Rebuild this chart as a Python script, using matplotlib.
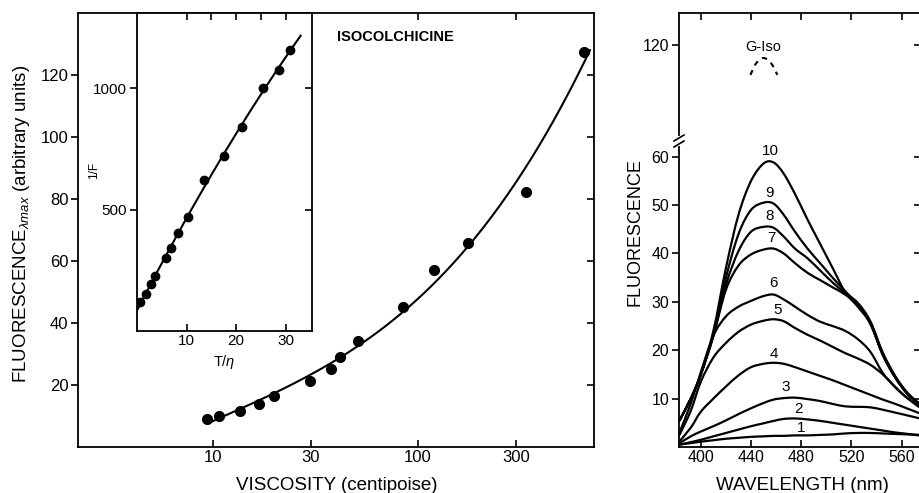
import numpy as np
import matplotlib
matplotlib.use("Agg")
import matplotlib.pyplot as plt
from matplotlib.path import Path
from matplotlib.patches import PathPatch

plt.rcParams['font.family'] = ['Liberation Sans', 'DejaVu Sans']
plt.rcParams['mathtext.fontset'] = 'custom'
plt.rcParams['mathtext.rm'] = 'Liberation Sans'
plt.rcParams['mathtext.it'] = 'Liberation Sans:italic'

# ---- left panel: Fmax vs viscosity ----
visc = [9.35, 10.7, 13.5, 16.8, 19.9, 29.7, 37.7, 41.7, 50.8, 84, 119, 176, 336, 646]
fmax = [9.0, 10.0, 11.7, 13.8, 16.5, 21.3, 25.2, 29.1, 34.3, 45.3, 57.1, 65.7, 82.2, 127.5]
visc_ticks = [10, 30, 100, 300]
fmax_ticks = [20, 40, 60, 80, 100, 120]

# inset: 1/F vs T/eta
t_eta = [0.6, 1.8, 2.8, 3.7, 5.9, 6.8, 8.2, 10.2, 13.6, 17.6, 21.2, 25.5, 28.7, 30.8]
inv_f = [119, 152, 193, 228, 299, 343, 403, 470, 623, 723, 843, 1000, 1078, 1160]

# ---- right panel: emission spectra ----
wl = [383, 392, 400, 410, 420, 430, 440, 450, 458, 466, 475, 485, 495, 505, 515, 525, 535, 545, 555, 565, 576]
spectra = {
    1: [0.5, 0.8, 1.1, 1.4, 1.7, 1.9, 2.1, 2.2, 2.3, 2.3, 2.4, 2.4, 2.5, 2.6, 2.8, 2.9, 2.9, 2.8, 2.7, 2.6, 2.5],
    2: [0.5, 1.0, 1.5, 2.2, 2.9, 3.6, 4.3, 4.9, 5.4, 5.8, 5.9, 5.7, 5.4, 5.0, 4.6, 4.2, 3.8, 3.4, 3.0, 2.7, 2.3],
    3: [0.8, 2.2, 3.2, 4.3, 5.5, 6.8, 8.0, 9.1, 9.8, 10.1, 10.2, 9.9, 9.5, 8.9, 8.4, 8.3, 8.2, 7.7, 7.1, 6.5, 5.8],
    4: [1.2, 4.0, 7.3, 10.0, 12.5, 14.8, 16.5, 17.2, 17.4, 17.2, 16.5, 15.6, 14.7, 13.8, 12.8, 11.8, 10.8, 9.8, 8.9, 7.9, 6.8],
    5: [2.5, 7.5, 13.5, 18.5, 21.5, 23.8, 25.3, 26.1, 26.4, 26.0, 24.6, 23.2, 22.0, 20.7, 19.4, 18.3, 17.0, 15.0, 12.4, 10.0, 7.9],
    6: [3.0, 9.0, 15.5, 23.0, 27.0, 29.0, 30.2, 31.2, 31.5, 30.5, 29.0, 27.3, 25.9, 25.0, 24.0, 22.3, 19.7, 15.3, 12.3, 10.0, 8.0],
    7: [5.5, 10.0, 15.0, 23.0, 32.5, 37.5, 39.8, 40.8, 41.0, 40.0, 38.0, 36.0, 34.5, 33.0, 31.5, 29.3, 25.5, 19.0, 14.3, 10.9, 8.4],
    8: [5.5, 10.0, 15.0, 23.0, 33.5, 40.5, 44.5, 45.5, 45.3, 43.5, 41.0, 39.0, 36.5, 34.0, 31.8, 29.8, 26.0, 19.5, 14.6, 11.1, 8.6],
    9: [5.5, 10.0, 15.0, 23.5, 35.0, 44.0, 49.0, 50.5, 50.3, 48.0, 44.5, 41.0, 38.0, 35.0, 32.2, 29.5, 25.8, 19.2, 14.5, 11.0, 8.5],
    10: [5.5, 10.0, 15.0, 24.0, 37.0, 48.0, 55.0, 58.6, 58.8, 56.5, 52.3, 47.0, 42.0, 37.0, 32.0, 29.0, 25.5, 19.0, 14.3, 10.8, 8.4],
}
label_pos = {1: (480, 3.9), 2: (478, 7.9), 3: (468, 12.3), 4: (458, 19.2), 5: (461, 28.4),
             6: (458, 33.8), 7: (456, 43.1), 8: (455, 47.7), 9: (455, 52.6), 10: (455, 61.2)}
giso_wl = [439.5, 444, 450, 456, 461]
giso_f = [113.8, 116.2, 117.3, 116.2, 113.8]
spec_yticks = [10, 20, 30, 40, 50, 60, 120]
spec_xticks = [400, 440, 480, 520, 560]

W, H = 919, 493
fig = plt.figure(figsize=(W / 100, H / 100), dpi=100)


def px_axes(l, r, t, b):
    return fig.add_axes([l / W, (H - b) / H, (r - l) / W, (b - t) / H])


def style(ax, ls=12):
    for s in ax.spines.values():
        s.set_linewidth(1.3)
    ax.tick_params(which='both', top=True, right=True, direction='in', length=5, width=1.2,
                   labelsize=ls, pad=2)


def outward_left(ax):
    # left ticks point out, right ticks point in
    ax.tick_params(axis='y', which='major', direction='out')
    for t in ax.yaxis.get_major_ticks():
        t.tick2line.set_marker(matplotlib.lines.TICKLEFT)


def smooth_line(ax, x, y, **kw):
    # Catmull-Rom curve through the points, drawn as a bezier path
    p = np.column_stack([x, y]).astype(float)
    p = np.vstack([p[0], p, p[-1]])
    verts = [p[1]]
    codes = [Path.MOVETO]
    for i in range(1, len(p) - 2):
        c1 = p[i] + (p[i + 1] - p[i - 1]) / 6
        c2 = p[i + 1] - (p[i + 2] - p[i]) / 6
        verts += [c1, c2, p[i + 1]]
        codes += [Path.CURVE4] * 3
    ax.add_patch(PathPatch(Path(verts, codes), fill=False, **kw))


# main panel
ax = px_axes(78, 594, 13, 447)
style(ax)
ax.set_xscale('log')
ax.set_xlim(2.19, 722)
ax.set_ylim(0, 140)
ax.plot(visc, fmax, 'o', color='black', ms=7)
coef = np.polyfit(np.log10(visc), fmax, 3)
xc = np.logspace(np.log10(visc[0]), np.log10(690), 200)
ax.plot(xc, np.polyval(coef, np.log10(xc)), color='black', lw=1.5)
ax.xaxis.set_major_locator(matplotlib.ticker.FixedLocator(visc_ticks))
ax.xaxis.set_minor_locator(matplotlib.ticker.NullLocator())
ax.set_xticklabels([str(v) for v in visc_ticks])
ax.set_yticks(fmax_ticks)
outward_left(ax)
fig.text(395 / W, 1 - 37 / H, 'ISOCOLCHICINE', fontsize=10.5, fontweight='bold',
         ha='center', va='center')
fig.text(22 / W, 1 - 224 / H, r'FLUORESCENCE$_{\lambda max}$ (arbitrary units)',
         rotation=90, ha='center', va='center', fontsize=13.5)
fig.text(337 / W, 1 - 485 / H, 'VISCOSITY (centipoise)', ha='center', va='center', fontsize=13.5)

# inset
ins = px_axes(137, 312, 13, 331)
style(ins, ls=11)
ins.set_facecolor('white')
ins.set_xlim(0, 35.3)
ins.set_ylim(0, 1311)
ins.plot(t_eta, inv_f, 'o', color='black', ms=6)
c2 = np.polyfit(t_eta, inv_f, 2)
xl = np.linspace(0, 33, 100)
ins.plot(xl, np.polyval(c2, xl), color='black', lw=1.5)
ins.set_xticks([10, 20, 30])
ins.set_xticks([10, 15, 20, 25, 30], minor=True)
ins.tick_params(axis='x', which='minor', bottom=False, top=True, direction='in', length=5, width=1.2)
ins.set_yticks([500, 1000])
outward_left(ins)
ins.set_ylabel('1/F', fontsize=8.5)
ins.yaxis.set_label_coords((100 - 137) / 175, (331 - 170) / 318)
ins.set_xlabel(r'T/$\eta$', fontsize=10.5, labelpad=4)

# right panel with broken y axis
B, OFF = 63.1, 36.9


def fwd(y):
    y = np.asarray(y, float)
    return np.where(y <= B, y, np.where(y < B + OFF, B, y - OFF))


def inv(d):
    d = np.asarray(d, float)
    return np.where(d <= B, d, d + OFF)


ax2 = px_axes(679, 921, 13, 447)
style(ax2, ls=11.5)
ax2.set_yscale('function', functions=(fwd, inv))
ax2.set_xlim(382.6, 575.4)
ax2.set_ylim(0, 126.6)
for k, ys in spectra.items():
    smooth_line(ax2, wl, ys, color='black', lw=1.6, joinstyle='round', capstyle='round')
    lx, ly = label_pos[k]
    ax2.text(lx, ly, str(k), fontsize=11, ha='center', va='center')
smooth_line(ax2, giso_wl, giso_f, color='black', lw=1.5, ls=(0, (2.5, 2.5)))
ax2.text(450, 119.6, 'G-Iso', fontsize=10.5, ha='center', va='center')
ax2.set_xticks(spec_xticks)
ax2.set_yticks(spec_yticks)
ax2.yaxis.set_minor_locator(matplotlib.ticker.NullLocator())
ax2.yaxis.set_major_formatter(matplotlib.ticker.FormatStrFormatter('%d'))
outward_left(ax2)
# break marks on the left spine
yb = (447 - 141) / 434
gx, gy = 5 / 242, 3 / 434
ax2.plot([0, 0], [yb - gy, yb + gy], color='white', lw=3, transform=ax2.transAxes,
         clip_on=False, zorder=5)
for dy in (-gy, gy):
    ax2.plot([-gx, gx], [yb + dy - gy, yb + dy + gy], color='black', lw=1.2,
             transform=ax2.transAxes, clip_on=False, zorder=6)
fig.text(635 / W, 1 - 232 / H, 'FLUORESCENCE', rotation=90, ha='center', va='center', fontsize=13)
fig.text(802 / W, 1 - 486 / H, 'WAVELENGTH (nm)', ha='center', va='center', fontsize=13.5)

fig.savefig('out.png', dpi=100)
